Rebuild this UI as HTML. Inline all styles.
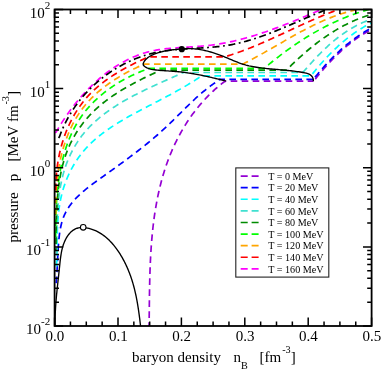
<!DOCTYPE html>
<html><head><meta charset="utf-8"><title>pressure vs baryon density</title>
<style>
html,body{margin:0;padding:0;background:#fff;}
body{width:382px;height:370px;overflow:hidden;position:relative;font-family:"Liberation Serif",serif;}
.t{font-family:"Liberation Serif",serif;fill:#000;}
</style></head><body>
<svg width="382" height="370" viewBox="0 0 382 370" style="position:absolute;left:0;top:0;will-change:transform">
<defs><clipPath id="cp"><rect x="54.60" y="9.50" width="317.00" height="316.50"/></clipPath></defs>
<rect x="0" y="0" width="382" height="370" fill="#fff"/>
<g clip-path="url(#cp)" fill="none" stroke-width="1.70" stroke-linejoin="round">
<path d="M148.90 326.00 L149.11 324.39 L149.13 322.91 L149.15 321.42 L149.17 319.94 L149.19 318.45 L149.20 316.96 L149.22 315.47 L149.24 313.98 L149.25 312.49 L149.27 310.99 L149.29 309.49 L149.30 308.00 L149.32 306.50 L149.33 305.00 L149.35 303.49 L149.37 301.99 L149.39 300.48 L149.41 298.98 L149.43 297.47 L149.45 295.96 L149.47 294.45 L149.49 292.94 L149.52 291.43 L149.54 289.92 L149.57 288.41 L149.60 286.89 L149.63 285.38 L149.66 283.86 L149.69 282.35 L149.73 280.83 L149.76 279.32 L149.80 277.80 L149.85 276.28 L149.89 274.76 L149.94 273.24 L149.98 271.72 L150.04 270.20 L150.09 268.69 L150.15 267.17 L150.21 265.65 L150.27 264.13 L150.34 262.61 L150.40 261.09 L150.48 259.57 L150.55 258.05 L150.63 256.53 L150.72 255.01 L150.80 253.49 L150.89 251.97 L150.99 250.45 L151.08 248.93 L151.19 247.42 L151.29 245.90 L151.40 244.38 L151.52 242.87 L151.64 241.35 L151.76 239.84 L151.89 238.32 L152.03 236.81 L152.16 235.30 L152.31 233.78 L152.46 232.27 L152.61 230.76 L152.77 229.26 L152.93 227.75 L153.10 226.24 L153.28 224.74 L153.46 223.23 L153.65 221.73 L153.84 220.23 L154.04 218.73 L154.24 217.23 L154.45 215.73 L154.67 214.23 L154.90 212.74 L155.13 211.25 L155.36 209.76 L155.61 208.27 L155.86 206.78 L156.11 205.29 L156.38 203.81 L156.65 202.33 L156.93 200.85 L157.21 199.37 L157.50 197.89 L157.80 196.42 L158.11 194.94 L158.43 193.47 L158.75 192.00 L159.08 190.54 L159.42 189.07 L159.77 187.61 L160.12 186.15 L160.49 184.70 L160.86 183.24 L161.24 181.79 L161.63 180.34 L162.02 178.90 L162.43 177.45 L162.84 176.01 L163.27 174.58 L163.70 173.14 L164.14 171.71 L164.59 170.28 L165.05 168.85 L165.52 167.43 L166.00 166.01 L166.49 164.59 L166.99 163.17 L167.50 161.76 L168.02 160.36 L168.55 158.95 L169.09 157.55 L169.64 156.15 L170.20 154.76 L170.77 153.37 L171.35 151.98 L171.94 150.59 L172.54 149.21 L173.15 147.84 L173.77 146.46 L174.41 145.09 L175.05 143.73 L175.71 142.37 L176.38 141.01 L177.05 139.66 L177.74 138.31 L178.44 136.97 L179.15 135.64 L179.87 134.30 L180.60 132.98 L181.35 131.66 L182.10 130.34 L182.86 129.03 L183.64 127.73 L184.42 126.43 L185.22 125.14 L186.02 123.86 L186.84 122.58 L187.67 121.31 L188.51 120.05 L189.36 118.80 L190.22 117.55 L191.09 116.31 L191.97 115.07 L192.86 113.85 L193.76 112.63 L194.68 111.42 L195.60 110.22 L196.53 109.03 L197.48 107.85 L198.43 106.68 L199.40 105.51 L200.38 104.35 L201.36 103.21 L202.36 102.07 L203.37 100.94 L204.39 99.83 L205.42 98.72 L206.46 97.62 L207.51 96.54 L208.57 95.46 L209.64 94.40 L210.72 93.34 L211.81 92.30 L212.91 91.27 L214.03 90.25 L215.15 89.24 L216.28 88.24 L217.43 87.26 L218.58 86.28 L219.75 85.32 L220.92 84.37 L222.11 83.44 L223.30 82.51 L224.51 81.60 L226.00 81.20 L313.40 81.20" stroke="#9400d3" stroke-dasharray="6.6 4.4" stroke-dashoffset="2.89"/>
<path d="M313.40 81.20 L314.49 80.11 L315.44 78.91 L316.40 77.71 L317.36 76.52 L318.33 75.33 L319.30 74.14 L320.28 72.96 L321.27 71.79 L322.26 70.62 L323.27 69.45 L324.27 68.29 L325.29 67.14 L326.31 65.99 L327.34 64.85 L328.38 63.72 L329.42 62.59 L330.48 61.47 L331.54 60.36 L332.60 59.26 L333.68 58.16 L334.76 57.07 L335.85 55.99 L336.95 54.92 L338.06 53.86 L339.18 52.80 L340.30 51.76 L341.43 50.73 L342.57 49.70 L343.72 48.69 L344.88 47.68 L346.05 46.69 L347.23 45.71 L348.41 44.73 L349.61 43.77 L350.81 42.83 L352.03 41.89 L353.25 40.97 L354.49 40.05 L355.73 39.15 L356.98 38.27 L358.24 37.39 L359.52 36.53 L360.80 35.69 L362.09 34.85 L363.40 34.04 L364.71 33.23 L366.03 32.44 L367.37 31.67 L368.71 30.91 L370.07 30.16 L371.40 29.40" stroke="#9400d3" stroke-dasharray="6.6 4.4" stroke-dashoffset="8.2"/>
<path d="M56.00 286.00 L56.03 284.39 L56.17 282.95 L56.30 281.49 L56.42 280.04 L56.54 278.57 L56.65 277.11 L56.75 275.64 L56.84 274.16 L56.93 272.68 L57.01 271.19 L57.09 269.70 L57.17 268.21 L57.24 266.71 L57.31 265.20 L57.38 263.69 L57.45 262.18 L57.52 260.66 L57.60 259.14 L57.67 257.61 L57.74 256.08 L57.82 254.54 L57.91 253.00 L57.99 251.45 L58.09 249.90 L58.18 248.35 L58.29 246.79 L58.40 245.23 L58.52 243.66 L58.65 242.09 L58.79 240.51 L58.94 238.93 L59.11 237.36 L59.29 235.78 L59.49 234.21 L59.71 232.64 L59.95 231.08 L60.21 229.53 L60.49 228.00 L60.80 226.47 L61.14 224.96 L61.51 223.46 L61.91 221.99 L62.35 220.53 L62.82 219.09 L63.32 217.68 L63.86 216.29 L64.45 214.93 L65.07 213.59 L65.72 212.28 L66.42 210.99 L67.14 209.73 L67.90 208.48 L68.70 207.26 L69.52 206.06 L70.37 204.88 L71.26 203.72 L72.17 202.57 L73.10 201.45 L74.07 200.34 L75.05 199.25 L76.06 198.18 L77.10 197.12 L78.15 196.07 L79.22 195.04 L80.32 194.03 L81.43 193.02 L82.56 192.03 L83.70 191.05 L84.86 190.08 L86.03 189.12 L87.21 188.17 L88.41 187.23 L89.61 186.29 L90.83 185.36 L92.05 184.44 L93.28 183.53 L94.52 182.62 L95.76 181.71 L97.00 180.81 L98.25 179.91 L99.49 179.02 L100.74 178.12 L101.99 177.23 L103.23 176.34 L104.48 175.45 L105.72 174.56 L106.97 173.67 L108.21 172.78 L109.45 171.89 L110.69 171.00 L111.93 170.11 L113.16 169.23 L114.40 168.34 L115.63 167.45 L116.86 166.56 L118.09 165.67 L119.32 164.77 L120.55 163.88 L121.77 162.99 L123.00 162.09 L124.22 161.20 L125.44 160.30 L126.65 159.40 L127.87 158.50 L129.08 157.60 L130.29 156.69 L131.50 155.78 L132.70 154.87 L133.91 153.96 L135.11 153.05 L136.30 152.13 L137.50 151.21 L138.69 150.29 L139.88 149.36 L141.06 148.43 L142.25 147.50 L143.43 146.56 L144.61 145.62 L145.78 144.68 L146.95 143.73 L148.12 142.78 L149.28 141.82 L150.44 140.86 L151.60 139.90 L152.75 138.93 L153.91 137.96 L155.05 136.98 L156.19 135.99 L157.33 135.00 L158.47 134.01 L159.60 133.01 L160.73 132.00 L161.85 130.99 L162.97 129.98 L164.09 128.95 L165.20 127.93 L166.31 126.89 L167.41 125.85 L168.51 124.80 L169.60 123.75 L170.69 122.69 L171.78 121.63 L172.87 120.57 L173.96 119.50 L175.04 118.43 L176.12 117.36 L177.20 116.28 L178.28 115.21 L179.36 114.13 L180.44 113.06 L181.52 111.98 L182.60 110.90 L183.69 109.83 L184.77 108.76 L185.86 107.68 L186.94 106.62 L188.04 105.55 L189.13 104.49 L190.23 103.43 L191.33 102.38 L192.43 101.33 L193.54 100.29 L194.65 99.25 L195.77 98.23 L196.90 97.20 L198.03 96.19 L199.16 95.18 L200.31 94.18 L201.46 93.19 L202.61 92.21 L203.78 91.24 L204.95 90.29 L206.13 89.34 L207.32 88.40 L208.52 87.48 L209.72 86.56 L210.94 85.66 L212.17 84.78 L213.41 83.90 L214.66 83.05 L215.91 82.20 L217.19 81.38 L218.47 80.56 L219.50 79.40 L313.20 79.40" stroke="#0000ff" stroke-dasharray="6.6 4.4" stroke-dashoffset="8.13"/>
<path d="M313.20 79.40 L314.22 78.25 L315.18 77.06 L316.15 75.88 L317.13 74.70 L318.11 73.53 L319.09 72.35 L320.09 71.19 L321.09 70.03 L322.09 68.87 L323.11 67.72 L324.13 66.58 L325.15 65.44 L326.19 64.31 L327.23 63.18 L328.28 62.06 L329.33 60.95 L330.39 59.84 L331.46 58.74 L332.54 57.65 L333.63 56.57 L334.72 55.49 L335.82 54.42 L336.93 53.37 L338.04 52.32 L339.17 51.27 L340.30 50.24 L341.44 49.22 L342.59 48.20 L343.74 47.20 L344.91 46.21 L346.08 45.22 L347.26 44.25 L348.45 43.29 L349.65 42.33 L350.86 41.39 L352.07 40.46 L353.30 39.54 L354.53 38.64 L355.78 37.74 L357.03 36.86 L358.29 35.99 L359.56 35.13 L360.84 34.29 L362.13 33.46 L363.43 32.64 L364.74 31.84 L366.05 31.04 L367.38 30.27 L368.72 29.51 L370.07 28.76 L371.40 28.00" stroke="#0000ff" stroke-dasharray="6.6 4.4" stroke-dashoffset="8.2"/>
<path d="M56.20 270.00 L56.37 268.39 L56.45 266.94 L56.52 265.49 L56.58 264.04 L56.64 262.57 L56.69 261.10 L56.73 259.63 L56.78 258.15 L56.81 256.66 L56.84 255.17 L56.87 253.67 L56.90 252.17 L56.93 250.67 L56.95 249.16 L56.97 247.64 L57.00 246.13 L57.02 244.61 L57.05 243.09 L57.07 241.56 L57.10 240.03 L57.13 238.50 L57.16 236.97 L57.20 235.44 L57.24 233.91 L57.29 232.37 L57.34 230.84 L57.40 229.30 L57.47 227.77 L57.54 226.23 L57.62 224.70 L57.71 223.16 L57.80 221.63 L57.91 220.10 L58.03 218.57 L58.15 217.04 L58.29 215.51 L58.44 213.99 L58.60 212.47 L58.78 210.95 L58.97 209.43 L59.17 207.92 L59.39 206.41 L59.62 204.91 L59.87 203.41 L60.13 201.92 L60.41 200.43 L60.71 198.94 L61.02 197.46 L61.36 195.99 L61.71 194.52 L62.08 193.06 L62.47 191.61 L62.88 190.16 L63.31 188.72 L63.76 187.29 L64.23 185.86 L64.71 184.44 L65.22 183.03 L65.74 181.63 L66.28 180.24 L66.84 178.85 L67.41 177.47 L68.01 176.11 L68.62 174.75 L69.25 173.40 L69.90 172.06 L70.57 170.73 L71.25 169.41 L71.96 168.10 L72.68 166.80 L73.42 165.52 L74.18 164.24 L74.95 162.97 L75.74 161.72 L76.55 160.48 L77.38 159.25 L78.22 158.03 L79.08 156.83 L79.96 155.63 L80.86 154.45 L81.77 153.29 L82.70 152.13 L83.65 150.99 L84.62 149.87 L85.60 148.75 L86.60 147.66 L87.61 146.57 L88.64 145.50 L89.69 144.45 L90.76 143.40 L91.83 142.38 L92.93 141.36 L94.03 140.35 L95.15 139.36 L96.29 138.38 L97.43 137.42 L98.59 136.46 L99.77 135.52 L100.95 134.58 L102.15 133.66 L103.35 132.75 L104.57 131.85 L105.80 130.96 L107.03 130.08 L108.28 129.20 L109.53 128.34 L110.80 127.49 L112.07 126.64 L113.35 125.81 L114.64 124.98 L115.93 124.16 L117.23 123.35 L118.54 122.55 L119.85 121.75 L121.17 120.96 L122.49 120.18 L123.82 119.40 L125.15 118.63 L126.48 117.87 L127.82 117.11 L129.16 116.36 L130.51 115.62 L131.85 114.87 L133.20 114.14 L134.55 113.41 L135.90 112.68 L137.25 111.96 L138.60 111.24 L139.95 110.52 L141.30 109.81 L142.65 109.10 L144.00 108.39 L145.34 107.69 L146.69 106.98 L148.03 106.28 L149.38 105.59 L150.72 104.89 L152.06 104.19 L153.40 103.50 L154.73 102.80 L156.07 102.11 L157.41 101.42 L158.74 100.72 L160.07 100.03 L161.40 99.33 L162.73 98.64 L164.06 97.94 L165.38 97.24 L166.70 96.54 L168.02 95.84 L169.34 95.13 L170.66 94.42 L171.97 93.71 L173.29 93.00 L174.60 92.28 L175.91 91.56 L177.21 90.84 L178.51 90.11 L179.82 89.37 L181.11 88.63 L182.41 87.89 L183.70 87.14 L184.99 86.39 L186.28 85.63 L187.57 84.86 L188.85 84.09 L190.13 83.31 L191.40 82.52 L192.68 81.73 L193.95 80.93 L195.22 80.12 L196.48 79.30 L197.74 78.48 L199.00 77.65 L200.25 76.80 L201.50 75.80 L311.00 75.80 L311.95 74.56 L312.92 73.35 L313.89 72.14 L314.87 70.94 L315.86 69.74 L316.85 68.54 L317.85 67.35 L318.86 66.16 L319.88 64.98 L320.90 63.81 L321.93 62.64 L322.97 61.47 L324.01 60.31 L325.06 59.16 L326.12 58.02 L327.19 56.88 L328.26 55.75 L329.35 54.63 L330.44 53.52 L331.53 52.41 L332.64 51.31 L333.76 50.22 L334.88 49.14 L336.01 48.07 L337.15 47.01 L338.30 45.96 L339.46 44.92 L340.62 43.89 L341.80 42.87 L342.98 41.86 L344.17 40.86 L345.37 39.87 L346.58 38.89 L347.80 37.93 L349.03 36.98 L350.27 36.04 L351.52 35.11 L352.77 34.20 L354.04 33.29 L355.31 32.41 L356.60 31.53 L357.90 30.67 L359.20 29.83 L360.52 29.00 L361.84 28.18 L363.18 27.38 L364.52 26.59 L365.88 25.82 L367.24 25.06 L368.62 24.33 L370.01 23.60 L371.40 22.90" stroke="#00ffff" stroke-dasharray="6.6 4.4" stroke-dashoffset="7.59"/>
<path d="M56.20 260.00 L56.52 258.31 L56.55 256.89 L56.58 255.46 L56.61 254.03 L56.63 252.59 L56.65 251.14 L56.67 249.68 L56.69 248.22 L56.71 246.75 L56.72 245.27 L56.74 243.79 L56.75 242.30 L56.77 240.81 L56.79 239.31 L56.80 237.80 L56.82 236.30 L56.84 234.78 L56.86 233.27 L56.89 231.75 L56.92 230.22 L56.95 228.69 L56.98 227.16 L57.02 225.63 L57.06 224.10 L57.11 222.56 L57.16 221.02 L57.22 219.48 L57.28 217.93 L57.35 216.39 L57.43 214.85 L57.51 213.30 L57.60 211.76 L57.70 210.21 L57.81 208.67 L57.92 207.12 L58.04 205.58 L58.17 204.04 L58.32 202.49 L58.47 200.95 L58.63 199.42 L58.80 197.88 L58.98 196.35 L59.18 194.82 L59.38 193.29 L59.60 191.77 L59.83 190.25 L60.07 188.73 L60.33 187.22 L60.60 185.71 L60.88 184.21 L61.18 182.71 L61.49 181.22 L61.82 179.73 L62.16 178.25 L62.52 176.78 L62.89 175.31 L63.28 173.85 L63.69 172.39 L64.11 170.94 L64.55 169.50 L65.01 168.07 L65.49 166.64 L65.98 165.23 L66.50 163.82 L67.03 162.42 L67.57 161.03 L68.14 159.64 L68.72 158.27 L69.32 156.91 L69.94 155.55 L70.57 154.21 L71.23 152.87 L71.89 151.55 L72.58 150.23 L73.29 148.93 L74.01 147.64 L74.75 146.36 L75.51 145.08 L76.28 143.83 L77.07 142.58 L77.88 141.34 L78.71 140.12 L79.56 138.91 L80.42 137.71 L81.30 136.52 L82.19 135.35 L83.11 134.19 L84.04 133.04 L84.99 131.91 L85.95 130.79 L86.94 129.68 L87.94 128.58 L88.95 127.50 L89.98 126.44 L91.03 125.38 L92.09 124.34 L93.17 123.31 L94.26 122.29 L95.36 121.28 L96.48 120.29 L97.61 119.30 L98.76 118.33 L99.91 117.37 L101.08 116.42 L102.27 115.48 L103.46 114.56 L104.66 113.64 L105.88 112.73 L107.11 111.84 L108.34 110.95 L109.59 110.08 L110.85 109.21 L112.11 108.35 L113.39 107.51 L114.67 106.67 L115.96 105.84 L117.26 105.02 L118.57 104.21 L119.88 103.41 L121.20 102.61 L122.53 101.83 L123.86 101.05 L125.20 100.28 L126.55 99.52 L127.90 98.77 L129.25 98.02 L130.61 97.28 L131.98 96.55 L133.34 95.83 L134.72 95.11 L136.09 94.40 L137.47 93.69 L138.85 93.00 L140.23 92.30 L141.61 91.62 L143.00 90.94 L144.38 90.26 L145.77 89.60 L147.15 88.93 L148.54 88.27 L149.93 87.62 L151.31 86.97 L152.70 86.33 L154.08 85.69 L155.46 85.06 L156.84 84.42 L158.22 83.80 L159.60 83.18 L160.97 82.56 L162.34 81.94 L163.70 81.33 L165.06 80.72 L166.42 80.11 L167.77 79.51 L169.12 78.91 L170.46 78.31 L171.79 77.72 L173.12 77.13 L174.45 76.53 L175.76 75.95 L177.07 75.36 L178.37 74.77 L179.67 74.19 L180.95 73.60 L182.23 73.02 L184.00 72.50 L302.60 72.50 L303.77 71.47 L304.77 70.31 L305.77 69.15 L306.78 67.98 L307.80 66.83 L308.82 65.67 L309.84 64.52 L310.87 63.37 L311.91 62.22 L312.95 61.08 L314.00 59.94 L315.06 58.81 L316.12 57.68 L317.19 56.56 L318.26 55.44 L319.34 54.33 L320.43 53.23 L321.53 52.13 L322.63 51.04 L323.74 49.96 L324.86 48.89 L325.99 47.83 L327.12 46.77 L328.27 45.73 L329.42 44.69 L330.58 43.67 L331.74 42.65 L332.92 41.65 L334.11 40.66 L335.30 39.68 L336.50 38.72 L337.72 37.76 L338.94 36.82 L340.17 35.90 L341.41 34.98 L342.66 34.08 L343.92 33.20 L345.19 32.33 L346.47 31.48 L347.76 30.64 L349.07 29.82 L350.38 29.02 L351.70 28.23 L353.04 27.46 L354.38 26.71 L355.74 25.97 L357.11 25.26 L358.49 24.56 L359.88 23.89 L361.28 23.23 L362.70 22.59 L364.13 21.98 L365.57 21.38 L367.02 20.81 L368.48 20.26 L369.96 19.73 L371.40 19.20" stroke="#40e0d0" stroke-dasharray="6.6 4.4" stroke-dashoffset="4.80"/>
<path d="M55.50 250.00 L55.97 248.57 L55.99 247.13 L56.01 245.68 L56.02 244.22 L56.03 242.76 L56.04 241.29 L56.06 239.82 L56.07 238.34 L56.08 236.85 L56.09 235.36 L56.11 233.86 L56.12 232.36 L56.14 230.85 L56.16 229.34 L56.18 227.82 L56.20 226.30 L56.23 224.78 L56.26 223.25 L56.29 221.72 L56.33 220.19 L56.37 218.65 L56.41 217.11 L56.46 215.57 L56.51 214.03 L56.57 212.49 L56.64 210.94 L56.71 209.40 L56.79 207.85 L56.87 206.30 L56.96 204.75 L57.06 203.20 L57.16 201.65 L57.27 200.11 L57.39 198.56 L57.52 197.01 L57.66 195.47 L57.80 193.92 L57.96 192.38 L58.12 190.84 L58.30 189.30 L58.48 187.76 L58.67 186.23 L58.88 184.70 L59.10 183.17 L59.32 181.64 L59.56 180.12 L59.81 178.60 L60.08 177.09 L60.35 175.58 L60.64 174.08 L60.94 172.58 L61.26 171.08 L61.59 169.60 L61.93 168.11 L62.29 166.64 L62.66 165.16 L63.05 163.70 L63.45 162.24 L63.87 160.79 L64.30 159.35 L64.75 157.91 L65.22 156.48 L65.70 155.06 L66.20 153.65 L66.72 152.24 L67.25 150.85 L67.81 149.46 L68.38 148.08 L68.97 146.71 L69.58 145.35 L70.20 144.00 L70.85 142.66 L71.51 141.33 L72.19 140.01 L72.88 138.70 L73.60 137.40 L74.33 136.11 L75.08 134.83 L75.84 133.56 L76.63 132.29 L77.43 131.04 L78.24 129.81 L79.07 128.58 L79.92 127.36 L80.79 126.15 L81.67 124.96 L82.57 123.77 L83.48 122.60 L84.41 121.44 L85.36 120.28 L86.32 119.14 L87.30 118.02 L88.29 116.90 L89.30 115.80 L90.32 114.70 L91.36 113.62 L92.41 112.55 L93.48 111.50 L94.56 110.45 L95.66 109.42 L96.77 108.40 L97.90 107.39 L99.04 106.40 L100.19 105.41 L101.35 104.44 L102.53 103.48 L103.71 102.53 L104.91 101.59 L106.12 100.66 L107.34 99.74 L108.57 98.83 L109.81 97.93 L111.06 97.05 L112.32 96.17 L113.59 95.30 L114.87 94.45 L116.15 93.60 L117.44 92.76 L118.74 91.94 L120.04 91.12 L121.36 90.31 L122.67 89.51 L124.00 88.72 L125.33 87.94 L126.66 87.17 L128.00 86.41 L129.34 85.65 L130.69 84.91 L132.04 84.17 L133.39 83.44 L134.74 82.72 L136.10 82.00 L137.46 81.30 L138.82 80.60 L140.18 79.91 L141.55 79.23 L142.91 78.55 L144.27 77.88 L145.64 77.22 L147.00 76.57 L148.36 75.92 L149.72 75.28 L151.08 74.64 L152.43 74.01 L153.78 73.39 L155.13 72.78 L156.48 72.17 L157.82 71.56 L159.16 70.96 L160.50 70.20 L286.00 70.20 L287.26 69.29 L288.34 68.21 L289.43 67.13 L290.51 66.05 L291.61 64.98 L292.71 63.91 L293.82 62.85 L294.93 61.79 L296.05 60.73 L297.17 59.68 L298.30 58.64 L299.44 57.60 L300.58 56.57 L301.73 55.54 L302.88 54.52 L304.04 53.50 L305.20 52.49 L306.38 51.49 L307.55 50.49 L308.74 49.50 L309.92 48.52 L311.12 47.55 L312.32 46.58 L313.53 45.62 L314.74 44.67 L315.96 43.72 L317.18 42.79 L318.42 41.86 L319.65 40.94 L320.90 40.03 L322.15 39.13 L323.40 38.24 L324.67 37.35 L325.93 36.48 L327.21 35.62 L328.49 34.77 L329.78 33.92 L331.07 33.09 L332.37 32.27 L333.68 31.46 L334.99 30.65 L336.31 29.86 L337.63 29.09 L338.97 28.32 L340.30 27.56 L341.65 26.82 L343.00 26.09 L344.36 25.37 L345.72 24.67 L347.09 23.97 L348.47 23.29 L349.85 22.62 L351.25 21.97 L352.64 21.33 L354.05 20.70 L355.46 20.09 L356.87 19.49 L358.30 18.90 L359.73 18.33 L361.17 17.77 L362.61 17.23 L364.06 16.71 L365.52 16.19 L366.98 15.70 L368.46 15.22 L369.93 14.75 L371.40 14.30" stroke="#008b00" stroke-dasharray="6.6 4.4" stroke-dashoffset="4.88"/>
<path d="M55.30 240.00 L55.67 238.33 L55.66 236.89 L55.66 235.45 L55.66 233.99 L55.67 232.54 L55.67 231.07 L55.68 229.61 L55.69 228.13 L55.71 226.65 L55.72 225.17 L55.74 223.68 L55.77 222.19 L55.80 220.69 L55.83 219.19 L55.87 217.69 L55.91 216.18 L55.96 214.67 L56.01 213.16 L56.06 211.64 L56.13 210.12 L56.19 208.60 L56.27 207.07 L56.35 205.55 L56.43 204.02 L56.52 202.49 L56.62 200.96 L56.73 199.43 L56.84 197.90 L56.96 196.36 L57.09 194.83 L57.22 193.30 L57.37 191.76 L57.52 190.23 L57.68 188.70 L57.84 187.16 L58.02 185.63 L58.20 184.10 L58.40 182.57 L58.60 181.04 L58.82 179.52 L59.04 178.00 L59.27 176.47 L59.51 174.95 L59.77 173.44 L60.03 171.92 L60.30 170.41 L60.59 168.91 L60.88 167.40 L61.19 165.90 L61.51 164.41 L61.84 162.91 L62.18 161.43 L62.54 159.94 L62.91 158.46 L63.29 156.99 L63.68 155.52 L64.08 154.06 L64.50 152.60 L64.94 151.15 L65.38 149.71 L65.84 148.27 L66.31 146.84 L66.80 145.41 L67.30 143.99 L67.82 142.58 L68.35 141.18 L68.90 139.78 L69.46 138.39 L70.04 137.01 L70.63 135.64 L71.24 134.28 L71.86 132.92 L72.51 131.58 L73.16 130.24 L73.84 128.91 L74.53 127.60 L75.24 126.29 L75.96 124.99 L76.71 123.70 L77.47 122.43 L78.24 121.16 L79.04 119.91 L79.86 118.66 L80.69 117.43 L81.54 116.21 L82.41 115.00 L83.30 113.80 L84.21 112.61 L85.14 111.44 L86.08 110.28 L87.04 109.13 L88.02 107.99 L89.01 106.87 L90.02 105.75 L91.04 104.65 L92.09 103.56 L93.14 102.49 L94.21 101.42 L95.30 100.37 L96.40 99.33 L97.52 98.30 L98.64 97.29 L99.79 96.29 L100.94 95.30 L102.11 94.33 L103.29 93.36 L104.48 92.41 L105.68 91.48 L106.90 90.56 L108.12 89.65 L109.36 88.75 L110.61 87.86 L111.87 86.99 L113.13 86.14 L114.41 85.29 L115.70 84.46 L116.99 83.65 L118.30 82.84 L119.61 82.05 L120.93 81.28 L122.25 80.52 L123.59 79.77 L124.93 79.03 L126.28 78.31 L127.63 77.61 L128.99 76.92 L130.36 76.24 L131.73 75.57 L133.11 74.92 L134.49 74.29 L135.87 73.67 L137.26 73.06 L138.66 72.47 L140.05 71.89 L141.45 71.33 L142.85 70.78 L144.26 70.24 L145.67 69.73 L147.08 69.22 L148.30 68.40 L264.30 68.40 L265.44 67.35 L266.60 66.37 L267.76 65.39 L268.93 64.42 L270.11 63.45 L271.28 62.49 L272.46 61.53 L273.65 60.57 L274.84 59.62 L276.03 58.67 L277.23 57.73 L278.44 56.80 L279.65 55.86 L280.86 54.94 L282.07 54.02 L283.30 53.10 L284.52 52.19 L285.75 51.28 L286.98 50.38 L288.22 49.49 L289.47 48.60 L290.71 47.71 L291.96 46.83 L293.22 45.96 L294.48 45.10 L295.74 44.24 L297.01 43.38 L298.28 42.53 L299.56 41.69 L300.84 40.86 L302.13 40.03 L303.42 39.21 L304.71 38.39 L306.01 37.58 L307.31 36.78 L308.61 35.99 L309.92 35.20 L311.24 34.42 L312.56 33.64 L313.88 32.88 L315.20 32.12 L316.53 31.37 L317.87 30.62 L319.21 29.88 L320.55 29.16 L321.89 28.43 L323.24 27.72 L324.60 27.02 L325.96 26.32 L327.32 25.63 L328.68 24.95 L330.05 24.27 L331.43 23.61 L332.81 22.95 L334.19 22.31 L335.57 21.67 L336.96 21.04 L338.35 20.41 L339.75 19.80 L341.15 19.20 L342.56 18.60 L343.97 18.02 L345.38 17.44 L346.79 16.87 L348.21 16.32 L349.64 15.77 L351.06 15.23 L352.49 14.70 L353.93 14.18 L355.37 13.67 L356.81 13.17 L358.25 12.68 L359.70 12.20 L361.16 11.73 L362.61 11.27 L364.07 10.83 L365.54 10.39 L367.00 9.96 L368.50 9.60" stroke="#00ff00" stroke-dasharray="6.6 4.4" stroke-dashoffset="7.98"/>
<path d="M55.30 215.00 L55.76 213.49 L55.72 212.01 L55.70 210.53 L55.68 209.04 L55.67 207.55 L55.66 206.05 L55.67 204.55 L55.69 203.05 L55.71 201.54 L55.74 200.03 L55.78 198.52 L55.83 197.00 L55.89 195.48 L55.96 193.96 L56.04 192.44 L56.13 190.92 L56.23 189.39 L56.34 187.87 L56.46 186.34 L56.59 184.81 L56.72 183.28 L56.87 181.76 L57.04 180.23 L57.21 178.70 L57.39 177.17 L57.58 175.65 L57.79 174.12 L58.00 172.60 L58.23 171.08 L58.47 169.56 L58.72 168.04 L58.99 166.53 L59.26 165.01 L59.55 163.50 L59.85 162.00 L60.16 160.49 L60.49 158.99 L60.83 157.50 L61.18 156.01 L61.54 154.52 L61.92 153.04 L62.31 151.56 L62.71 150.08 L63.13 148.62 L63.56 147.16 L64.01 145.70 L64.47 144.25 L64.94 142.81 L65.43 141.37 L65.93 139.94 L66.45 138.51 L66.98 137.10 L67.53 135.69 L68.09 134.29 L68.66 132.90 L69.26 131.51 L69.86 130.14 L70.49 128.77 L71.13 127.41 L71.78 126.06 L72.45 124.72 L73.14 123.39 L73.84 122.07 L74.56 120.77 L75.30 119.47 L76.05 118.18 L76.82 116.90 L77.60 115.64 L78.41 114.38 L79.23 113.14 L80.07 111.91 L80.92 110.69 L81.80 109.49 L82.69 108.29 L83.60 107.11 L84.52 105.95 L85.47 104.79 L86.43 103.65 L87.41 102.53 L88.41 101.41 L89.42 100.31 L90.46 99.23 L91.50 98.15 L92.57 97.09 L93.64 96.04 L94.74 95.01 L95.85 93.99 L96.97 92.98 L98.10 91.98 L99.25 91.00 L100.42 90.02 L101.59 89.06 L102.78 88.12 L103.98 87.18 L105.19 86.26 L106.41 85.35 L107.65 84.45 L108.89 83.56 L110.14 82.68 L111.41 81.82 L112.68 80.97 L113.96 80.13 L115.26 79.30 L116.56 78.48 L117.86 77.67 L119.18 76.88 L120.50 76.09 L121.83 75.32 L123.16 74.56 L124.51 73.80 L125.85 73.06 L127.21 72.33 L128.56 71.62 L129.93 70.91 L131.29 70.21 L132.66 69.52 L134.04 68.84 L135.41 68.18 L136.79 67.52 L138.18 66.87 L139.56 66.24 L140.95 65.61 L142.33 64.99 L143.40 64.05 L242.50 64.05 L243.97 63.51 L245.33 62.82 L246.69 62.13 L248.05 61.43 L249.41 60.72 L250.76 60.01 L252.11 59.29 L253.46 58.57 L254.81 57.84 L256.16 57.10 L257.50 56.37 L258.84 55.62 L260.18 54.88 L261.52 54.13 L262.86 53.38 L264.20 52.62 L265.53 51.86 L266.87 51.10 L268.20 50.34 L269.53 49.58 L270.86 48.81 L272.20 48.04 L273.53 47.28 L274.86 46.51 L276.19 45.74 L277.52 44.97 L278.85 44.20 L280.18 43.43 L281.51 42.66 L282.84 41.89 L284.17 41.12 L285.51 40.36 L286.84 39.59 L288.18 38.83 L289.51 38.07 L290.85 37.31 L292.19 36.56 L293.53 35.81 L294.87 35.06 L296.21 34.31 L297.55 33.57 L298.90 32.83 L300.25 32.10 L301.60 31.37 L302.95 30.65 L304.30 29.93 L305.66 29.22 L307.02 28.52 L308.38 27.82 L309.75 27.12 L311.12 26.43 L312.49 25.75 L313.86 25.08 L315.24 24.41 L316.62 23.76 L318.01 23.11 L319.40 22.46 L320.79 21.83 L322.19 21.21 L323.59 20.59 L324.99 19.98 L326.40 19.39 L327.81 18.80 L329.23 18.22 L330.65 17.66 L332.08 17.10 L333.51 16.56 L334.95 16.02 L336.39 15.50 L337.84 14.99 L339.29 14.49 L340.75 14.01 L342.21 13.54 L343.68 13.08 L345.15 12.63 L346.64 12.20 L348.12 11.78 L349.62 11.37 L351.12 10.98 L352.62 10.60 L354.13 10.24 L355.50 9.60" stroke="#ffa500" stroke-dasharray="6.6 4.4" stroke-dashoffset="10.29"/>
<path d="M55.30 192.00 L55.79 190.67 L55.78 189.13 L55.78 187.60 L55.80 186.06 L55.83 184.52 L55.88 182.98 L55.93 181.45 L56.01 179.91 L56.09 178.37 L56.19 176.83 L56.31 175.30 L56.44 173.76 L56.58 172.23 L56.74 170.69 L56.91 169.16 L57.10 167.63 L57.30 166.10 L57.51 164.58 L57.74 163.06 L57.99 161.54 L58.25 160.02 L58.52 158.50 L58.81 156.99 L59.11 155.49 L59.43 153.99 L59.76 152.49 L60.11 150.99 L60.47 149.50 L60.85 148.02 L61.24 146.54 L61.65 145.06 L62.08 143.60 L62.51 142.13 L62.97 140.68 L63.44 139.22 L63.92 137.78 L64.42 136.34 L64.94 134.91 L65.47 133.49 L66.01 132.07 L66.57 130.66 L67.15 129.26 L67.75 127.87 L68.35 126.48 L68.98 125.11 L69.62 123.74 L70.28 122.38 L70.95 121.03 L71.64 119.69 L72.34 118.36 L73.06 117.04 L73.80 115.73 L74.55 114.43 L75.32 113.14 L76.11 111.86 L76.91 110.59 L77.73 109.33 L78.57 108.08 L79.42 106.85 L80.29 105.63 L81.17 104.42 L82.07 103.22 L82.99 102.03 L83.93 100.86 L84.88 99.70 L85.85 98.56 L86.83 97.42 L87.84 96.30 L88.86 95.20 L89.89 94.11 L90.95 93.03 L92.02 91.97 L93.10 90.92 L94.20 89.88 L95.32 88.86 L96.45 87.85 L97.60 86.86 L98.76 85.88 L99.93 84.91 L101.12 83.95 L102.32 83.01 L103.53 82.08 L104.75 81.16 L105.99 80.26 L107.23 79.36 L108.48 78.48 L109.75 77.61 L111.02 76.75 L112.31 75.90 L113.60 75.07 L114.90 74.24 L116.21 73.43 L117.52 72.63 L118.84 71.83 L120.17 71.05 L121.51 70.28 L122.85 69.52 L124.19 68.77 L125.54 68.03 L126.89 67.30 L128.25 66.58 L129.61 65.87 L130.97 65.16 L132.34 64.47 L133.71 63.78 L135.08 63.11 L136.45 62.44 L137.82 61.78 L139.19 61.13 L140.56 60.49 L141.93 59.86 L143.30 59.23 L144.67 58.61 L146.04 58.00 L147.40 57.40 L148.80 56.90 L225.00 56.90 L226.39 56.30 L227.85 55.85 L229.31 55.40 L230.76 54.94 L232.21 54.47 L233.66 53.99 L235.10 53.50 L236.54 53.01 L237.98 52.51 L239.41 52.00 L240.84 51.48 L242.27 50.95 L243.70 50.42 L245.12 49.89 L246.54 49.34 L247.96 48.79 L249.37 48.24 L250.78 47.67 L252.19 47.11 L253.60 46.53 L255.00 45.96 L256.41 45.37 L257.81 44.78 L259.21 44.19 L260.60 43.59 L262.00 42.99 L263.39 42.39 L264.79 41.78 L266.18 41.17 L267.57 40.55 L268.95 39.93 L270.34 39.31 L271.73 38.69 L273.11 38.06 L274.49 37.43 L275.88 36.80 L277.26 36.17 L278.64 35.53 L280.02 34.89 L281.40 34.26 L282.78 33.62 L284.16 32.98 L285.54 32.34 L286.92 31.69 L288.29 31.05 L289.67 30.41 L291.05 29.77 L292.43 29.13 L293.81 28.49 L295.19 27.85 L296.57 27.21 L297.95 26.57 L299.33 25.94 L300.71 25.30 L302.09 24.67 L303.47 24.04 L304.86 23.41 L306.24 22.78 L307.63 22.16 L309.01 21.54 L310.40 20.92 L311.79 20.30 L313.18 19.69 L314.58 19.08 L315.97 18.48 L317.36 17.88 L318.76 17.28 L320.16 16.69 L321.56 16.11 L322.97 15.52 L324.37 14.95 L325.78 14.37 L327.19 13.81 L328.60 13.25 L330.01 12.69 L331.43 12.14 L332.85 11.60 L334.27 11.07 L335.70 10.54 L337.13 10.01 L338.60 9.60" stroke="#ff0000" stroke-dasharray="6.6 4.4" stroke-dashoffset="8.95"/>
<path d="M55.20 133.00 L56.41 131.60 L57.13 130.35 L57.85 129.11 L58.59 127.86 L59.34 126.62 L60.10 125.37 L60.87 124.13 L61.65 122.88 L62.45 121.64 L63.25 120.40 L64.07 119.16 L64.90 117.93 L65.73 116.69 L66.58 115.46 L67.44 114.23 L68.31 113.00 L69.19 111.78 L70.08 110.56 L70.98 109.35 L71.89 108.13 L72.81 106.93 L73.74 105.73 L74.68 104.53 L75.63 103.34 L76.60 102.15 L77.57 100.97 L78.55 99.80 L79.54 98.63 L80.54 97.47 L81.55 96.31 L82.57 95.17 L83.60 94.03 L84.64 92.90 L85.69 91.77 L86.75 90.66 L87.82 89.55 L88.89 88.45 L89.98 87.36 L91.07 86.28 L92.18 85.21 L93.29 84.15 L94.41 83.10 L95.55 82.06 L96.69 81.03 L97.83 80.02 L98.99 79.01 L100.16 78.01 L101.33 77.03 L102.52 76.06 L103.71 75.10 L104.91 74.15 L106.12 73.22 L107.33 72.30 L108.56 71.39 L109.79 70.50 L111.03 69.62 L112.28 68.76 L113.54 67.91 L114.80 67.07 L116.08 66.25 L117.36 65.44 L118.64 64.65 L119.94 63.88 L121.24 63.12 L122.55 62.38 L123.87 61.66 L125.20 60.95 L126.53 60.26 L127.87 59.59 L129.22 58.93 L130.57 58.29 L131.94 57.68 L133.31 57.07 L134.68 56.49 L136.06 55.93 L137.45 55.39 L138.85 54.87 L140.25 54.36 L141.66 53.88 L143.08 53.42 L144.50 52.97 L145.93 52.55 L147.37 52.15 L148.81 51.78 L150.26 51.42 L151.71 51.08 L153.17 50.77 L154.64 50.47 L156.11 50.19 L157.58 49.93 L159.06 49.69 L160.55 49.46 L162.04 49.25 L163.53 49.05 L165.03 48.86 L166.53 48.68 L168.03 48.52 L169.54 48.37 L171.05 48.23 L172.56 48.09 L174.08 47.97 L175.60 47.85 L177.12 47.74 L178.64 47.63 L180.16 47.53 L181.68 47.44 L183.21 47.34 L184.73 47.25 L186.26 47.16 L187.79 47.07 L189.31 46.98 L190.84 46.89 L192.37 46.80 L193.89 46.70 L195.42 46.60 L196.94 46.50 L198.46 46.39 L199.98 46.27 L201.50 46.15 L203.02 46.02 L204.53 45.88 L206.04 45.73 L207.55 45.57 L209.06 45.40 L210.56 45.22 L212.06 45.03 L213.56 44.83 L215.05 44.61 L216.55 44.39 L218.03 44.16 L219.52 43.92 L221.00 43.66 L222.49 43.40 L223.97 43.13 L225.44 42.85 L226.92 42.56 L228.39 42.26 L229.86 41.95 L231.32 41.63 L232.79 41.31 L234.25 40.97 L235.71 40.63 L237.17 40.28 L238.62 39.92 L240.08 39.55 L241.53 39.17 L242.98 38.79 L244.43 38.40 L245.88 38.00 L247.32 37.59 L248.76 37.18 L250.20 36.76 L251.64 36.33 L253.08 35.90 L254.52 35.45 L255.95 35.01 L257.38 34.55 L258.82 34.09 L260.25 33.62 L261.67 33.15 L263.10 32.67 L264.53 32.19 L265.95 31.70 L267.38 31.20 L268.80 30.70 L270.22 30.20 L271.64 29.68 L273.06 29.17 L274.48 28.65 L275.89 28.12 L277.31 27.59 L278.72 27.06 L280.14 26.52 L281.55 25.98 L282.97 25.43 L284.38 24.88 L285.79 24.32 L287.20 23.77 L288.61 23.20 L290.02 22.64 L291.43 22.07 L292.84 21.50 L294.25 20.93 L295.66 20.35 L297.06 19.77 L298.47 19.19 L299.88 18.60 L301.29 18.02 L302.69 17.43 L304.10 16.84 L305.51 16.25 L306.91 15.65 L308.32 15.06 L309.73 14.46 L311.13 13.86 L312.54 13.26 L313.95 12.66 L315.36 12.06 L316.77 11.46 L318.17 10.86 L319.58 10.25 L320.99 9.65 L322.50 9.60" stroke="#ff00ff" stroke-dasharray="6.6 4.4" stroke-dashoffset="0"/>
<path d="M58.60 138.00 L59.41 136.87 L59.94 135.42 L60.48 133.99 L61.03 132.56 L61.61 131.14 L62.20 129.73 L62.81 128.33 L63.43 126.93 L64.07 125.55 L64.73 124.17 L65.41 122.80 L66.10 121.44 L66.80 120.09 L67.53 118.75 L68.26 117.42 L69.02 116.10 L69.79 114.79 L70.57 113.49 L71.37 112.19 L72.18 110.91 L73.01 109.64 L73.86 108.37 L74.71 107.12 L75.59 105.88 L76.47 104.65 L77.37 103.42 L78.29 102.21 L79.21 101.01 L80.16 99.82 L81.11 98.65 L82.08 97.48 L83.06 96.32 L84.05 95.18 L85.06 94.04 L86.08 92.92 L87.11 91.81 L88.15 90.71 L89.21 89.63 L90.28 88.55 L91.36 87.49 L92.45 86.44 L93.55 85.40 L94.66 84.38 L95.79 83.37 L96.92 82.37 L98.07 81.38 L99.23 80.40 L100.40 79.44 L101.58 78.49 L102.76 77.56 L103.96 76.64 L105.17 75.73 L106.39 74.83 L107.62 73.95 L108.86 73.09 L110.10 72.23 L111.36 71.39 L112.63 70.57 L113.90 69.76 L115.18 68.96 L116.47 68.18 L117.77 67.41 L119.08 66.66 L120.40 65.92 L121.72 65.20 L123.05 64.49 L124.39 63.80 L125.74 63.12 L127.09 62.46 L128.45 61.81 L129.82 61.18 L131.20 60.56 L132.58 59.96 L133.97 59.38 L135.36 58.81 L136.76 58.26 L138.17 57.73 L139.58 57.21 L141.00 56.71 L142.43 56.22 L143.86 55.75 L145.29 55.30 L146.73 54.86 L148.17 54.44 L149.62 54.04 L151.08 53.66 L152.54 53.29 L154.00 52.94 L155.47 52.61 L156.94 52.30 L158.42 52.00 L159.89 51.72 L161.38 51.46 L162.86 51.22 L164.35 50.99 L165.84 50.77 L167.34 50.57 L168.84 50.38 L170.34 50.20 L171.84 50.03 L173.34 49.87 L174.85 49.73 L176.36 49.59 L177.87 49.46 L179.38 49.34 L180.89 49.23 L182.41 49.12 L183.92 49.01 L185.43 48.92 L186.95 48.82 L188.47 48.73 L189.98 48.64 L191.50 48.55 L193.01 48.47 L194.53 48.38 L196.04 48.29 L197.56 48.20 L199.07 48.11 L200.58 48.02 L202.10 47.93 L203.61 47.83 L205.12 47.73 L206.63 47.62 L208.13 47.51 L209.64 47.39 L211.15 47.26 L212.65 47.13 L214.15 47.00 L215.65 46.85 L217.15 46.69 L218.64 46.53 L220.14 46.35 L221.63 46.17 L223.12 45.97 L224.61 45.77 L226.09 45.55 L227.57 45.31 L229.05 45.07 L230.53 44.81 L232.00 44.54 L233.47 44.25 L234.94 43.95 L236.41 43.63 L237.87 43.30 L239.33 42.96 L240.79 42.61 L242.24 42.25 L243.69 41.87 L245.15 41.48 L246.59 41.08 L248.04 40.67 L249.48 40.25 L250.92 39.82 L252.36 39.38 L253.80 38.93 L255.24 38.47 L256.67 38.00 L258.10 37.52 L259.53 37.03 L260.96 36.54 L262.38 36.03 L263.81 35.52 L265.23 35.00 L266.65 34.48 L268.07 33.95 L269.49 33.41 L270.90 32.86 L272.32 32.31 L273.73 31.76 L275.14 31.19 L276.55 30.63 L277.96 30.06 L279.37 29.48 L280.78 28.90 L282.19 28.32 L283.59 27.73 L285.00 27.14 L286.40 26.55 L287.80 25.95 L289.20 25.35 L290.60 24.75 L292.00 24.15 L293.40 23.55 L294.80 22.94 L296.20 22.33 L297.60 21.73 L299.00 21.12 L300.39 20.52 L301.79 19.91 L303.19 19.30 L304.58 18.70 L305.98 18.09 L307.37 17.49 L308.77 16.89 L310.17 16.29 L311.56 15.70 L312.96 15.11 L314.35 14.52 L315.75 13.93 L317.14 13.34 L318.54 12.77 L319.94 12.19 L321.33 11.62 L322.73 11.05 L324.13 10.49 L325.53 9.94 L327.00 9.60" stroke="#000000" stroke-dasharray="7 3.6 1.8 3.6" stroke-dashoffset="0"/>
<path d="M55.00 326.00 L55.08 324.50 L55.07 322.93 L55.08 321.37 L55.10 319.82 L55.12 318.28 L55.16 316.74 L55.21 315.22 L55.26 313.69 L55.32 312.18 L55.40 310.67 L55.48 309.16 L55.56 307.66 L55.66 306.17 L55.76 304.68 L55.87 303.19 L55.98 301.71 L56.10 300.22 L56.23 298.74 L56.36 297.27 L56.49 295.79 L56.63 294.31 L56.78 292.84 L56.92 291.36 L57.07 289.89 L57.23 288.41 L57.38 286.93 L57.54 285.46 L57.70 283.97 L57.87 282.49 L58.03 281.00 L58.19 279.51 L58.36 278.02 L58.52 276.52 L58.69 275.02 L58.85 273.51 L59.01 272.00 L59.18 270.48 L59.34 268.95 L59.50 267.42 L59.65 265.88 L59.81 264.33 L59.97 262.78 L60.14 261.23 L60.32 259.68 L60.51 258.13 L60.72 256.58 L60.95 255.04 L61.21 253.51 L61.49 251.98 L61.80 250.47 L62.15 248.97 L62.53 247.49 L62.96 246.02 L63.42 244.57 L63.94 243.14 L64.51 241.74 L65.13 240.36 L65.80 239.00 L66.54 237.68 L67.33 236.39 L68.19 235.16 L69.10 233.99 L70.08 232.88 L71.11 231.85 L72.20 230.91 L73.35 230.07 L74.56 229.34 L75.83 228.72 L77.16 228.23 L78.54 227.87 L79.98 227.65 L81.45 227.54 L82.96 227.55 L84.47 227.65 L86.00 227.84 L87.51 228.11 L89.01 228.44 L90.49 228.84 L91.94 229.29 L93.36 229.79 L94.76 230.35 L96.13 230.97 L97.47 231.63 L98.79 232.34 L100.09 233.09 L101.35 233.89 L102.60 234.74 L103.82 235.62 L105.01 236.54 L106.18 237.51 L107.32 238.50 L108.44 239.54 L109.54 240.60 L110.61 241.70 L111.66 242.82 L112.68 243.97 L113.68 245.15 L114.65 246.35 L115.61 247.57 L116.53 248.82 L117.44 250.08 L118.32 251.36 L119.18 252.66 L120.02 253.96 L120.83 255.28 L121.62 256.61 L122.39 257.95 L123.14 259.30 L123.86 260.65 L124.56 262.01 L125.25 263.37 L125.91 264.73 L126.55 266.10 L127.17 267.48 L127.77 268.86 L128.35 270.24 L128.91 271.63 L129.46 273.03 L129.98 274.43 L130.49 275.83 L130.99 277.24 L131.46 278.66 L131.92 280.07 L132.37 281.50 L132.80 282.92 L133.21 284.35 L133.61 285.79 L134.00 287.23 L134.37 288.67 L134.73 290.12 L135.07 291.58 L135.41 293.03 L135.73 294.49 L136.04 295.96 L136.34 297.43 L136.63 298.90 L136.91 300.38 L137.18 301.86 L137.45 303.35 L137.70 304.84 L137.94 306.33 L138.18 307.83 L138.41 309.33 L138.63 310.83 L138.84 312.34 L139.05 313.85 L139.26 315.37 L139.45 316.89 L139.65 318.41 L139.84 319.93 L140.02 321.46 L140.20 323.00 L140.38 324.53 L140.50 326.00" stroke="#000" stroke-width="1.35"/>
<path d="M226.00 80.90 L224.52 80.60 L223.05 80.24 L221.58 79.89 L220.11 79.53 L218.64 79.18 L217.17 78.83 L215.70 78.48 L214.22 78.13 L212.75 77.79 L211.27 77.45 L209.80 77.11 L208.32 76.78 L206.84 76.45 L205.36 76.13 L203.88 75.81 L202.40 75.50 L200.91 75.19 L199.43 74.89 L197.94 74.60 L196.46 74.32 L194.97 74.05 L193.48 73.78 L191.99 73.53 L190.50 73.28 L189.01 73.05 L187.51 72.82 L186.02 72.61 L184.52 72.41 L183.03 72.22 L181.53 72.04 L180.03 71.88 L178.53 71.73 L177.03 71.59 L175.53 71.46 L174.03 71.35 L172.53 71.24 L171.02 71.14 L169.52 71.05 L168.01 70.95 L166.50 70.86 L164.99 70.76 L163.47 70.65 L161.96 70.54 L160.44 70.42 L158.92 70.28 L157.39 70.13 L155.87 69.97 L154.34 69.78 L152.81 69.56 L151.31 69.29 L149.82 68.94 L148.38 68.49 L146.98 67.92 L145.64 67.20 L144.40 66.32 L143.46 65.26 L143.14 64.01 L143.56 62.61 L144.33 61.25 L145.25 60.03 L146.29 58.92 L147.43 57.92 L148.67 57.02 L149.97 56.21 L151.33 55.48 L152.73 54.82 L154.15 54.21 L155.57 53.66 L157.01 53.15 L158.45 52.69 L159.89 52.26 L161.35 51.88 L162.80 51.52 L164.27 51.20 L165.74 50.91 L167.21 50.64 L168.70 50.39 L170.18 50.17 L171.67 49.95 L173.17 49.76 L174.67 49.57 L176.18 49.38 L177.69 49.21 L179.21 49.05 L180.72 48.90 L182.24 48.77 L183.76 48.66 L185.28 48.59 L186.80 48.54 L188.31 48.53 L189.82 48.55 L191.33 48.61 L192.84 48.70 L194.34 48.82 L195.84 48.97 L197.34 49.16 L198.83 49.37 L200.32 49.61 L201.80 49.87 L203.29 50.17 L204.76 50.48 L206.23 50.82 L207.70 51.19 L209.17 51.57 L210.63 51.98 L212.08 52.41 L213.53 52.86 L214.97 53.32 L216.41 53.80 L217.85 54.30 L219.27 54.82 L220.70 55.35 L222.11 55.89 L223.53 56.44 L224.93 57.01 L226.33 57.58 L227.72 58.17 L229.11 58.76 L230.50 59.35 L231.88 59.94 L233.27 60.53 L234.66 61.11 L236.05 61.68 L237.45 62.23 L238.85 62.77 L240.27 63.29 L241.69 63.79 L243.12 64.26 L244.57 64.70 L246.03 65.11 L247.51 65.49 L248.99 65.85 L250.48 66.17 L251.98 66.48 L253.48 66.76 L254.99 67.03 L256.50 67.27 L258.01 67.50 L259.52 67.71 L261.03 67.91 L262.53 68.10 L264.03 68.28 L265.53 68.44 L267.03 68.60 L268.52 68.75 L270.01 68.89 L271.51 69.03 L273.00 69.16 L274.49 69.29 L275.98 69.42 L277.47 69.54 L278.96 69.67 L280.46 69.80 L281.95 69.92 L283.45 70.05 L284.94 70.19 L286.45 70.33 L287.95 70.48 L289.46 70.63 L290.97 70.79 L292.48 70.97 L294.00 71.15 L295.52 71.34 L297.05 71.55 L298.59 71.77 L300.13 72.01 L301.67 72.26 L303.22 72.53 L304.77 72.83 L306.27 73.19 L307.71 73.63 L309.06 74.18 L310.28 74.87 L311.34 75.73 L312.22 76.78 L312.89 78.04 L313.31 79.55 L313.30 81.20" stroke="#000" stroke-width="1.35"/>
</g>
<circle cx="181.8" cy="49.2" r="3.1" fill="#000"/>
<circle cx="83.2" cy="227.3" r="2.8" fill="#fff" stroke="#000" stroke-width="1.1"/>
<path d="M54.60 326.00 v-8.60 M54.60 9.50 v8.60 M70.45 326.00 v-4.40 M70.45 9.50 v4.40 M86.30 326.00 v-4.40 M86.30 9.50 v4.40 M102.15 326.00 v-4.40 M102.15 9.50 v4.40 M118.00 326.00 v-8.60 M118.00 9.50 v8.60 M133.85 326.00 v-4.40 M133.85 9.50 v4.40 M149.70 326.00 v-4.40 M149.70 9.50 v4.40 M165.55 326.00 v-4.40 M165.55 9.50 v4.40 M181.40 326.00 v-8.60 M181.40 9.50 v8.60 M197.25 326.00 v-4.40 M197.25 9.50 v4.40 M213.10 326.00 v-4.40 M213.10 9.50 v4.40 M228.95 326.00 v-4.40 M228.95 9.50 v4.40 M244.80 326.00 v-8.60 M244.80 9.50 v8.60 M260.65 326.00 v-4.40 M260.65 9.50 v4.40 M276.50 326.00 v-4.40 M276.50 9.50 v4.40 M292.35 326.00 v-4.40 M292.35 9.50 v4.40 M308.20 326.00 v-8.60 M308.20 9.50 v8.60 M324.05 326.00 v-4.40 M324.05 9.50 v4.40 M339.90 326.00 v-4.40 M339.90 9.50 v4.40 M355.75 326.00 v-4.40 M355.75 9.50 v4.40 M371.60 326.00 v-8.60 M371.60 9.50 v8.60 M54.60 9.50 h8.60 M371.60 9.50 h-8.60 M54.60 64.81 h4.40 M371.60 64.81 h-4.40 M54.60 50.87 h4.40 M371.60 50.87 h-4.40 M54.60 40.99 h4.40 M371.60 40.99 h-4.40 M54.60 33.32 h4.40 M371.60 33.32 h-4.40 M54.60 27.05 h4.40 M371.60 27.05 h-4.40 M54.60 21.76 h4.40 M371.60 21.76 h-4.40 M54.60 17.17 h4.40 M371.60 17.17 h-4.40 M54.60 13.12 h4.40 M371.60 13.12 h-4.40 M54.60 88.62 h8.60 M371.60 88.62 h-8.60 M54.60 143.93 h4.40 M371.60 143.93 h-4.40 M54.60 130.00 h4.40 M371.60 130.00 h-4.40 M54.60 120.11 h4.40 M371.60 120.11 h-4.40 M54.60 112.44 h4.40 M371.60 112.44 h-4.40 M54.60 106.18 h4.40 M371.60 106.18 h-4.40 M54.60 100.88 h4.40 M371.60 100.88 h-4.40 M54.60 96.29 h4.40 M371.60 96.29 h-4.40 M54.60 92.25 h4.40 M371.60 92.25 h-4.40 M54.60 167.75 h8.60 M371.60 167.75 h-8.60 M54.60 223.06 h4.40 M371.60 223.06 h-4.40 M54.60 209.12 h4.40 M371.60 209.12 h-4.40 M54.60 199.24 h4.40 M371.60 199.24 h-4.40 M54.60 191.57 h4.40 M371.60 191.57 h-4.40 M54.60 185.30 h4.40 M371.60 185.30 h-4.40 M54.60 180.01 h4.40 M371.60 180.01 h-4.40 M54.60 175.42 h4.40 M371.60 175.42 h-4.40 M54.60 171.37 h4.40 M371.60 171.37 h-4.40 M54.60 246.88 h8.60 M371.60 246.88 h-8.60 M54.60 302.18 h4.40 M371.60 302.18 h-4.40 M54.60 288.25 h4.40 M371.60 288.25 h-4.40 M54.60 278.36 h4.40 M371.60 278.36 h-4.40 M54.60 270.69 h4.40 M371.60 270.69 h-4.40 M54.60 264.43 h4.40 M371.60 264.43 h-4.40 M54.60 259.13 h4.40 M371.60 259.13 h-4.40 M54.60 254.54 h4.40 M371.60 254.54 h-4.40 M54.60 250.50 h4.40 M371.60 250.50 h-4.40 M54.60 326.00 h8.60 M371.60 326.00 h-8.60" stroke="#000" stroke-width="1.5" fill="none"/>
<rect x="54.60" y="9.50" width="317.00" height="316.50" fill="none" stroke="#000" stroke-width="1.8"/>
<rect x="235.80" y="167.90" width="93.00" height="109.20" fill="#fff" stroke="#222" stroke-width="1.1"/>
<path d="M240.7 176.05 H262.5" stroke="#9400d3" stroke-width="1.65" stroke-dasharray="7 3.9" fill="none"/>
<text transform="translate(268.30 179.75) scale(0.9200 1)" font-size="11" text-anchor="start" class="t">T = 0 MeV</text>
<path d="M240.7 187.65 H262.5" stroke="#0000ff" stroke-width="1.65" stroke-dasharray="7 3.9" fill="none"/>
<text transform="translate(268.30 191.35) scale(0.9200 1)" font-size="11" text-anchor="start" class="t">T = 20 MeV</text>
<path d="M240.7 199.25 H262.5" stroke="#00ffff" stroke-width="1.65" stroke-dasharray="7 3.9" fill="none"/>
<text transform="translate(268.30 202.95) scale(0.9200 1)" font-size="11" text-anchor="start" class="t">T = 40 MeV</text>
<path d="M240.7 210.85 H262.5" stroke="#40e0d0" stroke-width="1.65" stroke-dasharray="7 3.9" fill="none"/>
<text transform="translate(268.30 214.55) scale(0.9200 1)" font-size="11" text-anchor="start" class="t">T = 60 MeV</text>
<path d="M240.7 222.45 H262.5" stroke="#008b00" stroke-width="1.65" stroke-dasharray="7 3.9" fill="none"/>
<text transform="translate(268.30 226.15) scale(0.9200 1)" font-size="11" text-anchor="start" class="t">T = 80 MeV</text>
<path d="M240.7 234.05 H262.5" stroke="#00ff00" stroke-width="1.65" stroke-dasharray="7 3.9" fill="none"/>
<text transform="translate(268.30 237.75) scale(0.9200 1)" font-size="11" text-anchor="start" class="t">T = 100 MeV</text>
<path d="M240.7 245.65 H262.5" stroke="#ffa500" stroke-width="1.65" stroke-dasharray="7 3.9" fill="none"/>
<text transform="translate(268.30 249.35) scale(0.9200 1)" font-size="11" text-anchor="start" class="t">T = 120 MeV</text>
<path d="M240.7 257.25 H262.5" stroke="#ff0000" stroke-width="1.65" stroke-dasharray="7 3.9" fill="none"/>
<text transform="translate(268.30 260.95) scale(0.9200 1)" font-size="11" text-anchor="start" class="t">T = 140 MeV</text>
<path d="M240.7 268.85 H262.5" stroke="#ff00ff" stroke-width="1.65" stroke-dasharray="7 3.9" fill="none"/>
<text transform="translate(268.30 272.55) scale(0.9200 1)" font-size="11" text-anchor="start" class="t">T = 160 MeV</text>
<text transform="translate(54.90 340.60) scale(1.0750 1)" font-size="14" text-anchor="middle" class="t">0.0</text>
<text transform="translate(118.30 340.60) scale(1.0750 1)" font-size="14" text-anchor="middle" class="t">0.1</text>
<text transform="translate(181.70 340.60) scale(1.0750 1)" font-size="14" text-anchor="middle" class="t">0.2</text>
<text transform="translate(245.10 340.60) scale(1.0750 1)" font-size="14" text-anchor="middle" class="t">0.3</text>
<text transform="translate(308.50 340.60) scale(1.0750 1)" font-size="14" text-anchor="middle" class="t">0.4</text>
<text transform="translate(371.90 340.60) scale(1.0750 1)" font-size="14" text-anchor="middle" class="t">0.5</text>
<text transform="translate(50.30 17.50) scale(1.0750 1)" font-size="14" text-anchor="end" class="t">10<tspan dy="-9.0" font-size="10.3">2</tspan></text>
<text transform="translate(50.30 96.62) scale(1.0750 1)" font-size="14" text-anchor="end" class="t">10<tspan dy="-9.0" font-size="10.3">1</tspan></text>
<text transform="translate(50.30 175.75) scale(1.0750 1)" font-size="14" text-anchor="end" class="t">10<tspan dy="-9.0" font-size="10.3">0</tspan></text>
<text transform="translate(50.30 254.88) scale(1.0750 1)" font-size="14" text-anchor="end" class="t">10<tspan dy="-9.0" font-size="10.3">-1</tspan></text>
<text transform="translate(50.30 334.00) scale(1.0750 1)" font-size="14" text-anchor="end" class="t">10<tspan dy="-9.0" font-size="10.3">-2</tspan></text>
<text transform="translate(132.00 361.60) scale(1.0750 1)" font-size="14" text-anchor="start" class="t">baryon density</text>
<text transform="translate(233.60 361.60) scale(1.0750 1)" font-size="14" text-anchor="start" class="t">n<tspan dy="7.2" font-size="9.5">B</tspan></text>
<text transform="translate(259.60 361.60) scale(1.0750 1)" font-size="14" text-anchor="start" class="t">[fm<tspan dy="-9.0" dx="0.8" font-size="9.5">-3</tspan><tspan dy="9.0" font-size="14">]</tspan></text>
<g transform="translate(18.4 0) rotate(-90)">
<text transform="translate(-242.50 0.00) scale(1.0750 1)" font-size="14" text-anchor="start" class="t">pressure</text>
<text transform="translate(-181.20 0.00) scale(1.0750 1)" font-size="14" text-anchor="start" class="t">p</text>
<text transform="translate(-161.50 0.00) scale(1.0750 1)" font-size="14" text-anchor="start" class="t">[MeV fm<tspan dy="-9.8" dx="0.8" font-size="9.5">-3</tspan><tspan dy="9.8" font-size="14">]</tspan></text>
</g>
</svg>
</body></html>
